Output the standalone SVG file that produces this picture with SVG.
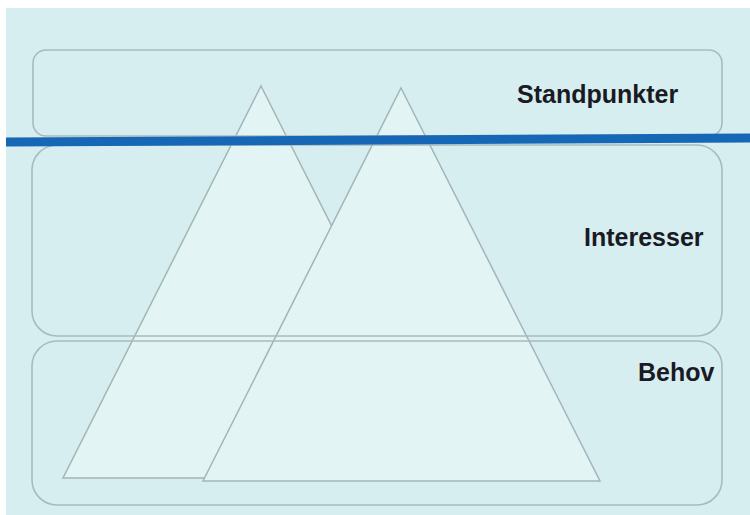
<svg xmlns="http://www.w3.org/2000/svg" width="750" height="515" viewBox="0 0 750 515">
  <style>
    .bg { fill: #d6eef0; }
    .tri { fill: #e3f4f5; stroke: #a3b5b7; stroke-width: 1.5; stroke-linejoin: miter; }
    .box { fill: none; stroke: #a9babc; stroke-width: 1.6; }
    .lbl { font-family: "Liberation Sans", Arial, sans-serif; font-weight: bold; font-size: 25px; fill: #1a1a24; }
    .divider { stroke: #1668b6; stroke-width: 9; fill: none; }
  </style>
  <rect x="0" y="0" width="750" height="515" fill="#ffffff"/>
  <rect class="bg" x="6" y="8" width="744" height="507"/>

  <g id="triangle-1">
    <polygon class="tri" points="261,86 459,478 63,478"/>
  </g>
  <g id="triangle-2">
    <polygon class="tri" points="401,88 600,481 203,481"/>
  </g>

  <g id="box-standpunkter">
    <rect class="box" x="33" y="50" width="689" height="86" rx="13" ry="13"/>
    <text class="lbl" x="517" y="103">Standpunkter</text>
  </g>
  <g id="box-interesser">
    <rect class="box" x="32" y="145" width="690" height="191" rx="25" ry="25"/>
    <text class="lbl" x="584" y="246">Interesser</text>
  </g>
  <g id="box-behov">
    <rect class="box" x="32" y="341" width="690" height="164" rx="25" ry="25"/>
    <text class="lbl" x="638" y="381">Behov</text>
  </g>

  <g id="connectors">
    <line class="divider" x1="6" y1="142" x2="750" y2="138"/>
  </g>
</svg>
